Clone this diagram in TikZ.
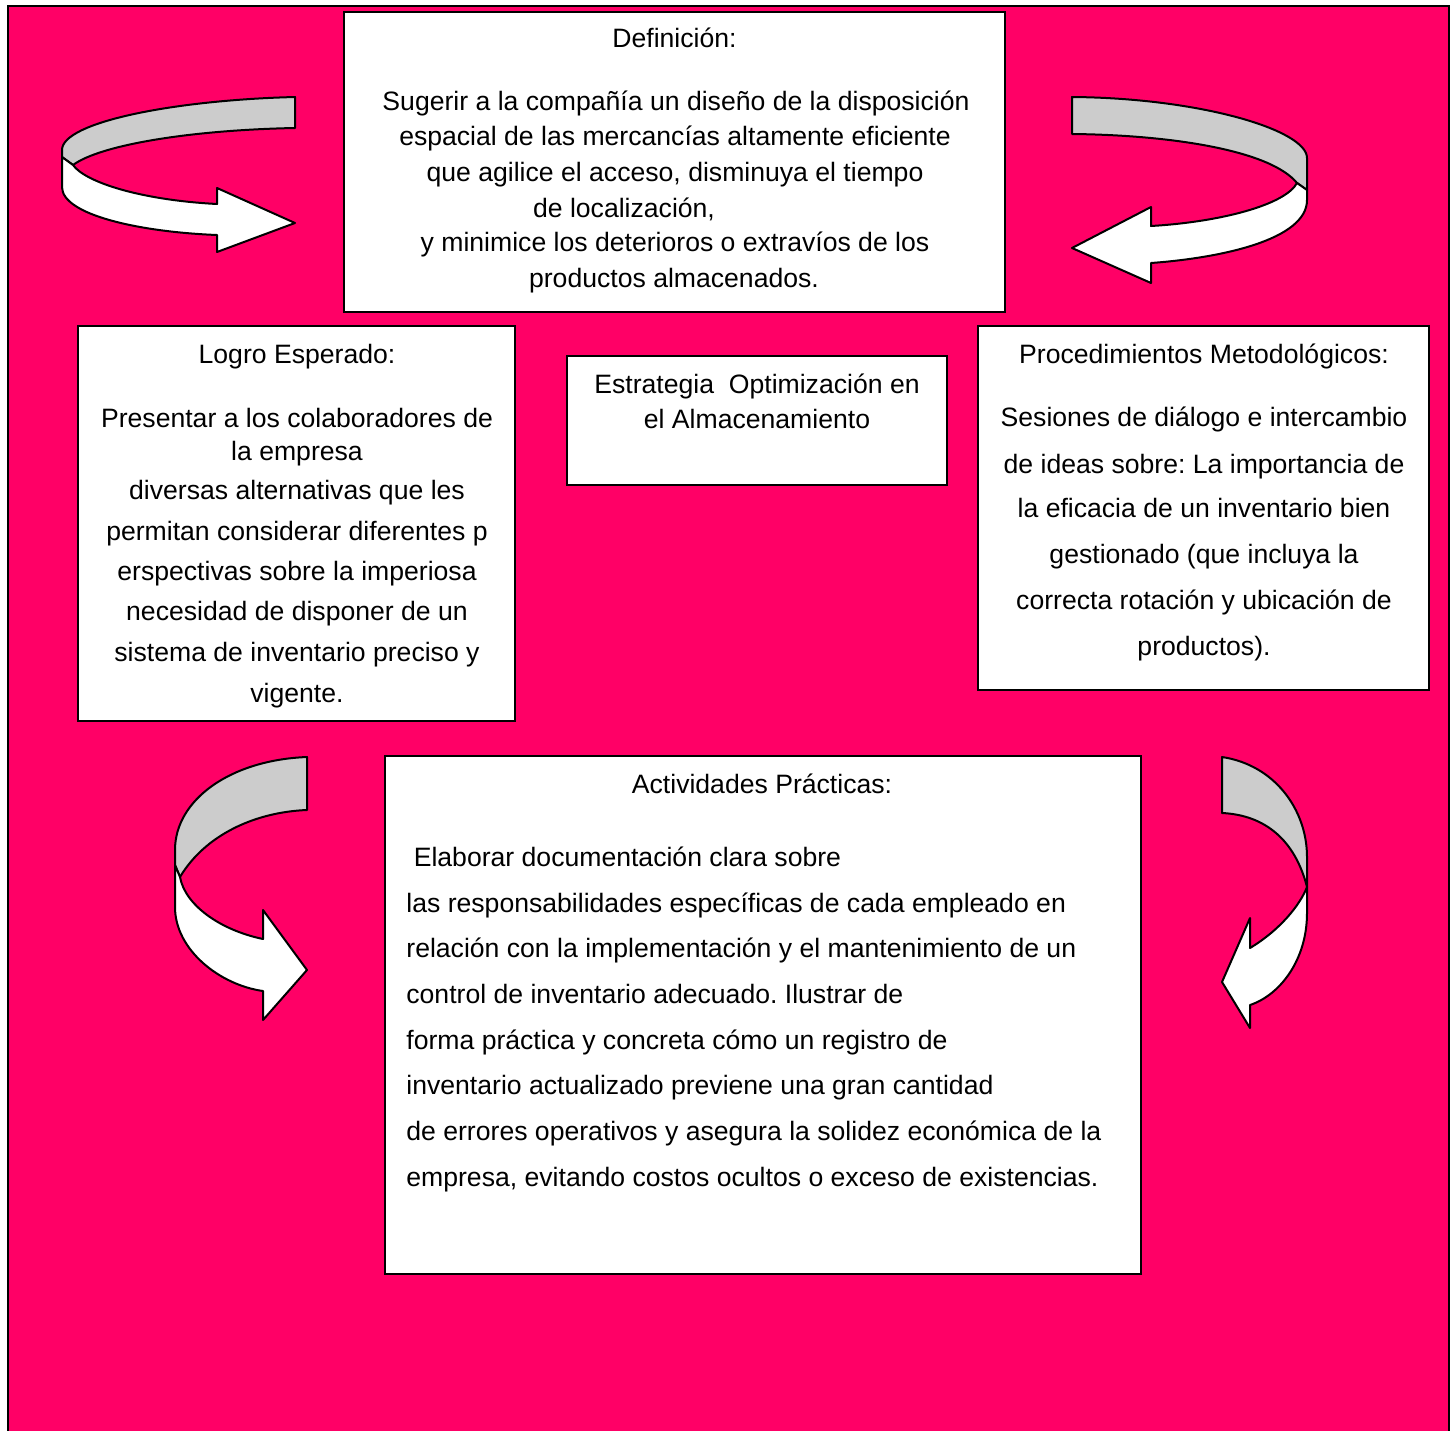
\documentclass[tikz,border=0pt]{standalone}
\usepackage{fontspec}
\setmainfont{Liberation Sans}
\frenchspacing
\definecolor{pinkbg}{RGB}{255,0,102}
\definecolor{ribbongrey}{RGB}{204,204,204}
\begin{document}
\begin{tikzpicture}[x=0.5pt,y=-0.5pt,
  box/.style={draw=black,line width=0.8pt,fill=white,inner sep=0pt},
  txt/.style={inner sep=0pt,font=\fontsize{13.3}{16}\selectfont\frenchspacing,anchor=base},
  txtl/.style={txt,anchor=base west},
  ribbon/.style={draw=black,line width=1pt,line join=round},
  back/.style={ribbon,fill=ribbongrey},
  front/.style={ribbon,fill=white}]
\useasboundingbox (0,0) rectangle (1456,1430);
\fill[white] (0,0) rectangle (1456,1430);
\draw[fill=pinkbg,line width=1.25pt] (8,6) rectangle (1449,1470);

% boxes
\node[box,minimum width=330.5pt,minimum height=150pt] (def) at (674.5,162) {};
\node[box,minimum width=218.5pt,minimum height=197.5pt] (logro) at (296.5,523.5) {};
\node[box,minimum width=190pt,minimum height=64.5pt] (estr) at (757,420.5) {};
\node[box,minimum width=225.5pt,minimum height=182pt] (proc) at (1203.5,508) {};
\node[box,minimum width=378pt,minimum height=259pt] (act) at (763,1015) {};

% Definicion
\node[txt] (deft) at (674.5,47) {Definición:};
\foreach \xx/\y/\t [count=\i] in {
  676/110/{Sugerir a la compañía un diseño de la disposición},
  675/145/{espacial de las mercancías altamente eficiente},
  675/181/{que agilice el acceso, disminuya el tiempo},
  624/217/{de localización,},
  675/251/{y minimice los deterioros o extravíos de los},
  674/287/{productos almacenados.}}
  \node[txt] (def\i) at (\xx,\y) {\t};

% Logro Esperado
\node[txt] (logrot) at (297,363) {Logro Esperado:};
\foreach \y/\t [count=\i] in {
  427/{Presentar a los colaboradores de},
  460/{la empresa},
  499/{diversas alternativas que les},
  540/{permitan considerar diferentes p},
  580/{erspectivas sobre la imperiosa},
  620/{necesidad de disponer de un},
  661/{sistema de inventario preciso y},
  702/{vigente.}}
  \node[txt] (logro\i) at (297,\y) {\t};

% Estrategia
\node[txt] (estr1) at (757,393) {Estrategia\ \ Optimización en};
\node[txt] (estr2) at (757,428) {el Almacenamiento};

% Procedimientos
\node[txt] (proct) at (1204,363) {Procedimientos Metodológicos:};
\foreach \y/\t [count=\i] in {
  426/{Sesiones de diálogo e intercambio},
  473/{de ideas sobre: La importancia de},
  517/{la eficacia de un inventario bien},
  563/{gestionado (que incluya la},
  609/{correcta rotación y ubicación de},
  655.5/{productos).}}
  \node[txt] (proc\i) at (1204,\y) {\t};

% Actividades
\node[txt] (actt) at (762,793) {Actividades Prácticas:};
\foreach \y/\t [count=\i] in {
  866/{\hspace*{0.278em}Elaborar documentación clara sobre},
  912/{las responsabilidades específicas de cada empleado en},
  957/{relación con la implementación y el mantenimiento de un},
  1003/{control de inventario adecuado. Ilustrar de},
  1049/{forma práctica y concreta cómo un registro de},
  1094.5/{inventario actualizado previene una gran cantidad},
  1140/{de errores operativos y asegura la solidez económica de la},
  1186/{empresa, evitando costos ocultos o exceso de existencias.}}
  \node[txtl] (act\i) at (406,\y) {\t};

% top-left curved arrow
\draw[back] (295,97) .. controls (175,100) and (62,122) .. (62,150) -- (62,157) -- (73,165)
  .. controls (100,145) and (190,130) .. (295,128) -- cycle;
\draw[front] (62,157) -- (62,187) .. controls (62,215) and (140,232) .. (217,235)
  -- (217,252) -- (295,223) -- (217,188) -- (217,204)
  .. controls (140,200) and (85,182) .. (73,165) -- cycle;

% top-right curved arrow
\draw[back] (1072,97) .. controls (1200,98) and (1307,130) .. (1307,158) -- (1307,190) -- (1297,183)
  .. controls (1270,150) and (1170,135) .. (1072,134) -- cycle;
\draw[front] (1297,183) -- (1307,190) -- (1307,200) .. controls (1307,240) and (1220,258) .. (1151,263)
  -- (1151,283) -- (1072,248) -- (1151,207) -- (1151,226)
  .. controls (1220,222) and (1285,205) .. (1297,183) -- cycle;

% bottom-left curved arrow
\draw[back] (307,757) .. controls (230,760) and (175,800) .. (175,850) -- (175,865) -- (180,877)
  .. controls (205,835) and (255,812) .. (307,810) -- cycle;
\draw[front] (175,865) -- (175,907) .. controls (175,950) and (220,985) .. (263,991)
  -- (263,1020) -- (307,970) -- (263,910) -- (263,939)
  .. controls (220,930) and (185,905) .. (180,877) -- cycle;

% bottom-right curved arrow
\draw[back] (1222,757) .. controls (1275,765) and (1307,810) .. (1307,857) -- (1307,887)
  .. controls (1295,840) and (1265,815) .. (1222,813) -- cycle;
\draw[front] (1307,887) -- (1307,913) .. controls (1307,960) and (1280,995) .. (1250,1005)
  -- (1250,1028) -- (1222,982) -- (1250,918) -- (1250,948)
  .. controls (1280,930) and (1300,905) .. (1307,887) -- cycle;
\end{tikzpicture}
\end{document}
